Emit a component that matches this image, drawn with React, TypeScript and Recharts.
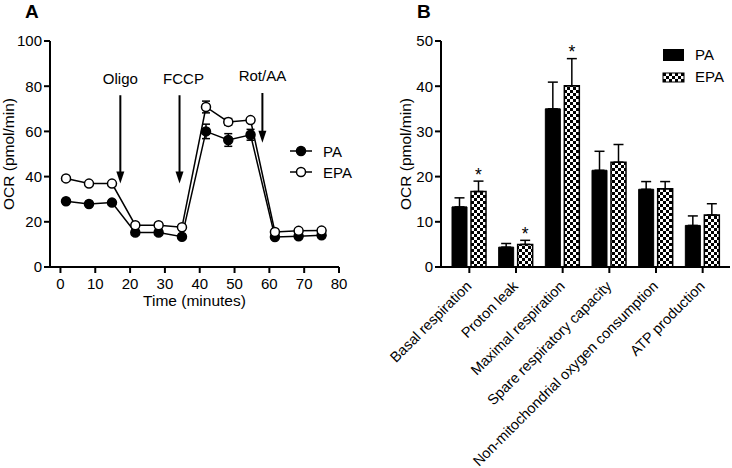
import React from 'react';
import {
  LineChart,
  Line,
  XAxis,
  YAxis,
  ErrorBar,
  ReferenceLine,
  Legend,
  BarChart,
  Bar,
  LabelList,
} from 'recharts';

const FONT = '"Liberation Sans", Arial, Helvetica, sans-serif';

// ---------- Panel A data ----------
const times = [1.6, 8.2, 14.8, 21.5, 28.2, 34.9, 41.8, 48.2, 54.6, 61.6, 68.4, 75.0];
const paOCR = [29.1, 27.9, 28.5, 15.3, 15.3, 13.4, 60.0, 56.2, 58.5, 13.3, 13.6, 14.0];
const epaOCR = [39.2, 36.9, 36.9, 18.5, 18.5, 17.6, 70.8, 64.2, 65.0, 15.5, 16.0, 16.1];
const paErr = [1.0, 1.0, 1.0, 1.0, 1.0, 1.0, 3.2, 2.8, 2.4, 1.0, 1.0, 1.0];
const epaErr = [1.0, 1.0, 1.0, 1.0, 1.0, 1.0, 2.6, 1.5, 1.0, 1.0, 1.0, 1.0];
const xTicksA = [0, 10, 20, 30, 40, 50, 60, 70, 80];
const yTicksA = [0, 20, 40, 60, 80, 100];

const injections = ['Oligo', 'FCCP', 'Rot/AA'];
const injectionTimes = [17.2, 34.2, 58.0];
const arrowTop = [76, 76, 77];
const arrowBottom = [37, 37, 55];
const injectionLabelDx = [0, 4, 0];

// ---------- Panel B data ----------
const categories = [
  'Basal respiration',
  'Proton leak',
  'Maximal respiration',
  'Spare respiratory capacity',
  'Non-mitochondrial oxygen consumption',
  'ATP production',
];
const paBar = [13.3, 4.4, 35.0, 21.4, 17.2, 9.2];
const paBarErr = [2.0, 0.8, 5.9, 4.2, 1.7, 2.1];
const epaBar = [16.7, 5.0, 40.1, 23.2, 17.3, 11.5];
const epaBarErr = [2.3, 0.9, 6.0, 3.9, 1.6, 2.5];
const significant = [true, true, true, false, false, false];
const yTicksB = [0, 10, 20, 30, 40, 50];

const seriesNames = ['PA', 'EPA'];

const lineData = times.map((t, i) => ({
  time: t,
  pa: paOCR[i],
  epa: epaOCR[i],
  paErr: paErr[i],
  epaErr: epaErr[i],
}));

const barData = categories.map((c, i) => ({
  name: c,
  pa: paBar[i],
  epa: epaBar[i],
  paErr: paBarErr[i],
  epaErr: epaBarErr[i],
}));

const tickStyle = { fontSize: 15, fill: '#000', fontFamily: FONT };
const axisLineStyle = { stroke: '#000', strokeWidth: 2 };

const makeArrow = (idx: number) => (props: any) => {
  const { x1, y1, x2, y2 } = props;
  const x = (x1 + x2) / 2;
  const top = Math.min(y1, y2);
  const bottom = Math.max(y1, y2);
  return (
    <g>
      <text
        x={x + injectionLabelDx[idx]}
        y={top - 11.5}
        textAnchor="middle"
        fontSize={15}
        fontFamily={FONT}
        fill="#000"
      >
        {injections[idx]}
      </text>
      <line x1={x} y1={top} x2={x} y2={bottom - 10} stroke="#000" strokeWidth={2} />
      <polygon points={`${x - 4},${bottom - 12} ${x + 4},${bottom - 12} ${x},${bottom}`} fill="#000" />
    </g>
  );
};

const LegendA = () => (
  <svg width={75} height={45} style={{ overflow: 'visible' }}>
    {seriesNames.map((n, i) => {
      const cy = 13 + i * 21;
      return (
        <g key={n}>
          <line x1={5} y1={cy} x2={27} y2={cy} stroke="#000" strokeWidth={1.5} />
          <circle cx={16} cy={cy} r={4.5} fill={i === 0 ? '#000' : '#fff'} stroke="#000" strokeWidth={1.5} />
          <text x={38} y={cy + 5.5} fontSize={15} fontFamily={FONT} fill="#000">
            {n}
          </text>
        </g>
      );
    })}
  </svg>
);

const LegendB = () => (
  <svg width={72} height={50} style={{ overflow: 'visible' }}>
    <rect x={3} y={9} width={21} height={12} fill="#000" />
    <text x={35} y={20} fontSize={15} fontFamily={FONT} fill="#000">
      {seriesNames[0]}
    </text>
    <rect x={3} y={33} width={21} height={9} fill="url(#checker)" stroke="#000" strokeWidth={1} />
    <text x={35} y={42} fontSize={15} fontFamily={FONT} fill="#000">
      {seriesNames[1]}
    </text>
  </svg>
);

const CategoryTick = (props: any) => {
  const { x, y, payload } = props;
  const px = x + 3;
  const py = y + 12;
  return (
    <text
      x={px}
      y={py}
      transform={`rotate(-45, ${px}, ${py})`}
      textAnchor="end"
      fontSize={14.5}
      fontFamily={FONT}
      fill="#000"
    >
      {payload.value}
    </text>
  );
};

const renderStar = (props: any) => {
  const { x, y, width, height, value, index } = props;
  if (!significant[index] || !value) return null;
  const pxPerUnit = height / value;
  const errTop = y - epaBarErr[index] * pxPerUnit;
  return (
    <text x={x + width / 2} y={errTop - 0.5} textAnchor="middle" fontSize={17.5} fontFamily={FONT} fill="#000">
      *
    </text>
  );
};

export default function App() {
  return (
    <div style={{ position: 'absolute', left: 0, top: 0, width: 732, height: 468, background: '#fff' }}>
      <div style={{ position: 'absolute', left: 0, top: 0 }}>
        <LineChart width={360} height={320} data={lineData} margin={{ top: 41, right: 21, bottom: 8, left: 0 }}>
          <XAxis
            dataKey="time"
            type="number"
            domain={[-3, 80]}
            ticks={xTicksA}
            height={45}
            axisLine={axisLineStyle}
            tickLine={axisLineStyle}
            tickSize={6}
            tickMargin={5}
            tick={tickStyle}
            label={{
              value: 'Time (minutes)',
              position: 'insideBottom',
              offset: 6,
              style: { fontSize: 15.5, fill: '#000', fontFamily: FONT, textAnchor: 'middle' },
            }}
          />
          <YAxis
            type="number"
            domain={[0, 100]}
            ticks={yTicksA}
            width={50}
            axisLine={axisLineStyle}
            tickLine={axisLineStyle}
            tickSize={6}
            tickMargin={2}
            tick={tickStyle}
            label={{
              value: 'OCR (pmol/min)',
              angle: -90,
              position: 'insideLeft',
              offset: 8,
              style: { fontSize: 15.5, fill: '#000', fontFamily: FONT, textAnchor: 'middle' },
            }}
          />
          {injections.map((name, i) => (
            <ReferenceLine
              key={name}
              segment={[
                { x: injectionTimes[i], y: arrowTop[i] },
                { x: injectionTimes[i], y: arrowBottom[i] },
              ]}
              shape={makeArrow(i)}
            />
          ))}
          <Line
            dataKey="pa"
            name={seriesNames[0]}
            stroke="#000"
            strokeWidth={1.5}
            isAnimationActive={false}
            dot={{ r: 4.5, fill: '#000', stroke: '#000', strokeWidth: 1.5 }}
          >
            <ErrorBar dataKey="paErr" width={4} stroke="#000" strokeWidth={1.5} />
          </Line>
          <Line
            dataKey="epa"
            name={seriesNames[1]}
            stroke="#000"
            strokeWidth={1.5}
            isAnimationActive={false}
            dot={{ r: 4.5, fill: '#fff', stroke: '#000', strokeWidth: 1.5 }}
          >
            <ErrorBar dataKey="epaErr" width={4} stroke="#000" strokeWidth={1.5} />
          </Line>
          <Legend
            layout="horizontal"
            verticalAlign="middle"
            align="center"
            wrapperStyle={{ left: 285, top: 138, width: 75, height: 45 }}
            content={() => <LegendA />}
          />
        </LineChart>
      </div>
      <div style={{ position: 'absolute', left: 360, top: 0 }}>
        <BarChart
          width={372}
          height={468}
          data={barData}
          margin={{ top: 41, right: 2, bottom: 11, left: 0 }}
          barGap={4}
          barSize={15}
        >
          <defs>
            <pattern id="checker" width="6" height="6" patternUnits="userSpaceOnUse">
              <rect width="6" height="6" fill="#fff" />
              <rect width="3" height="3" fill="#000" />
              <rect x="3" y="3" width="3" height="3" fill="#000" />
            </pattern>
          </defs>
          <XAxis
            dataKey="name"
            type="category"
            height={190}
            interval={0}
            padding={{ left: 5, right: 4 }}
            axisLine={axisLineStyle}
            tickLine={axisLineStyle}
            tickSize={6}
            tickMargin={2}
            tick={<CategoryTick />}
          />
          <YAxis
            type="number"
            domain={[0, 50]}
            ticks={yTicksB}
            width={81}
            axisLine={axisLineStyle}
            tickLine={axisLineStyle}
            tickSize={6}
            tickMargin={2}
            tick={tickStyle}
            label={{
              value: 'OCR (pmol/min)',
              angle: -90,
              position: 'insideLeft',
              offset: 45,
              style: { fontSize: 15.5, fill: '#000', fontFamily: FONT, textAnchor: 'middle' },
            }}
          />
          <Bar dataKey="pa" name={seriesNames[0]} fill="#000" stroke="#000" strokeWidth={1} isAnimationActive={false}>
            <ErrorBar dataKey={(d: any) => [0, d.paErr]} width={5} stroke="#000" strokeWidth={1.5} />
          </Bar>
          <Bar dataKey="epa" name={seriesNames[1]} fill="url(#checker)" stroke="#000" strokeWidth={1.5} isAnimationActive={false}>
            <ErrorBar dataKey={(d: any) => [0, d.epaErr]} width={5} stroke="#000" strokeWidth={1.5} />
            <LabelList dataKey="epa" content={renderStar} />
          </Bar>
          <Legend
            layout="horizontal"
            verticalAlign="middle"
            align="center"
            wrapperStyle={{ left: 300, top: 40, width: 72, height: 50 }}
            content={() => <LegendB />}
          />
        </BarChart>
      </div>
      <svg
        width={732}
        height={468}
        style={{ position: 'absolute', left: 0, top: 0, pointerEvents: 'none' }}
      >
        <text x={25} y={18} fontSize={19} fontWeight="bold" fontFamily={FONT} fill="#000">
          A
        </text>
        <text x={417} y={18} fontSize={19} fontWeight="bold" fontFamily={FONT} fill="#000">
          B
        </text>
      </svg>
    </div>
  );
}
